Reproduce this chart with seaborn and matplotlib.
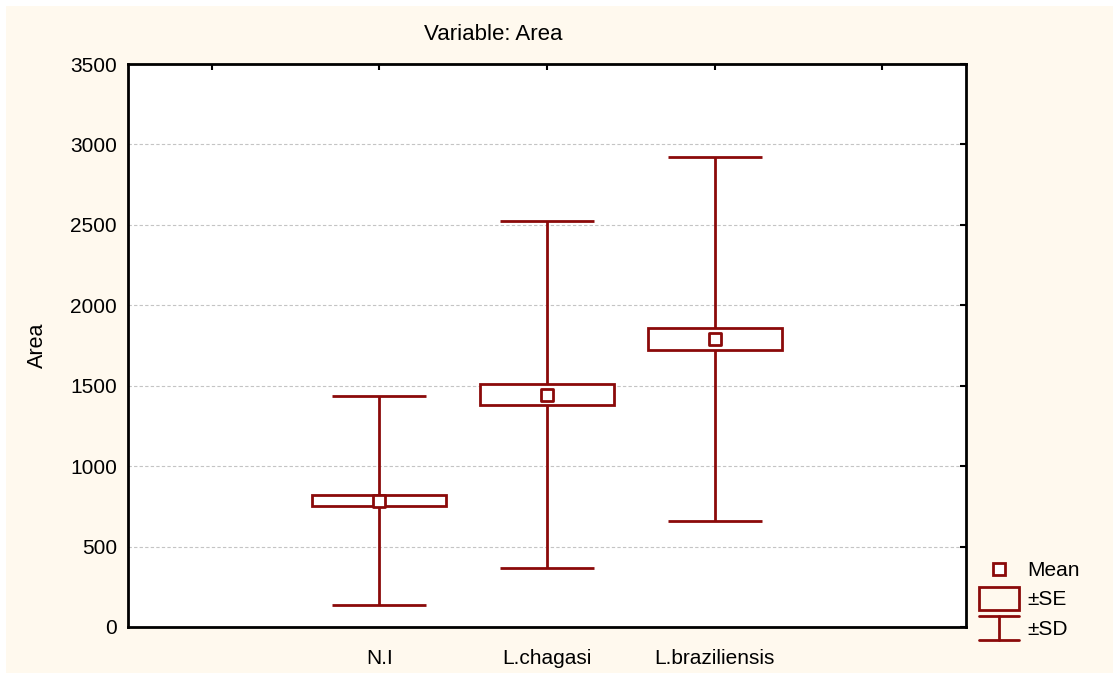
import numpy as np
import pandas as pd
import matplotlib
matplotlib.use("Agg")
import matplotlib.pyplot as plt
from matplotlib.lines import Line2D
from matplotlib.patches import Rectangle
from matplotlib.legend_handler import HandlerBase
import seaborn as sns

# Summary statistics per group
groups = ["N.I", "L.chagasi", "L.braziliensis"]
means = [786, 1445, 1790]
se = [34, 64, 68]
sd = [652, 1078, 1131]

df = pd.DataFrame({"group": groups, "mean": means, "se": se, "sd": sd})
df["pos"] = np.arange(1, len(groups) + 1)

RED = "#8B0A0A"
BG = "#FFF9EE"

sns.set_theme(style="white")
plt.rcParams["font.family"] = ["Liberation Sans", "DejaVu Sans"]

fig = plt.figure(figsize=(11.13, 6.73), dpi=100, facecolor=BG)
# thin white strips along the top and left edges
fig.patches.append(Rectangle((0, 0), 6 / 1113, 1, transform=fig.transFigure,
                             facecolor="white", edgecolor="none", zorder=-10))
fig.patches.append(Rectangle((0, 1 - 6 / 673), 1, 6 / 673, transform=fig.transFigure,
                             facecolor="white", edgecolor="none", zorder=-10))
ax = fig.add_axes([128 / 1113, (673 - 627) / 673, (966 - 128) / 1113, (627 - 64) / 673])
ax.set_facecolor("white")

# ±SD whiskers
ax.errorbar(df["pos"], df["mean"], yerr=df["sd"], fmt="none", ecolor=RED,
            elinewidth=2, capsize=34, capthick=2, zorder=2)
# ±SE boxes
ax.bar(df["pos"], 2 * df["se"], bottom=df["mean"] - df["se"], width=0.8,
       facecolor="white", edgecolor=RED, linewidth=2, zorder=3)
# Means
sns.scatterplot(data=df, x="pos", y="mean", marker="s", s=80, color="white",
                edgecolor=RED, linewidth=2, ax=ax, zorder=4, legend=False)

ax.set_xlim(-0.5, 4.5)
ax.set_ylim(0, 3500)
ax.set_xticks(range(5))
ax.set_xticklabels([""] + groups + [""])
ax.set_yticks(np.arange(0, 3501, 500))
ax.tick_params(axis="both", labelsize=15, colors="black", direction="in",
               length=4, width=1.5, top=True, right=True, pad=8)
ax.tick_params(axis="x", pad=16)
ax.yaxis.grid(True, linestyle=(0, (3, 2)), color="#C4C4C4", linewidth=0.8)
ax.set_axisbelow(True)
for s in ax.spines.values():
    s.set_visible(True)
    s.set_color("black")
    s.set_linewidth(2)

ax.set_xlabel("")
ax.set_ylabel("Area", fontsize=15.5, color="black", labelpad=16)
fig.text(493 / 1113, 1 - 35 / 673, "Variable: Area", ha="center", va="center",
         fontsize=16, color="black")


class SDHandler(HandlerBase):
    def create_artists(self, legend, orig_handle, xd, yd, width, height, fontsize, trans):
        y0, y1 = yd - 3.4, yd + height + 3.4
        xc = xd + width / 2
        lines = [
            Line2D([xd, xd + width], [y1, y1]),
            Line2D([xd, xd + width], [y0, y0]),
            Line2D([xc, xc], [y0, y1]),
        ]
        for ln in lines:
            ln.set_color(RED)
            ln.set_linewidth(2)
            ln.set_transform(trans)
        return lines


class SEHandler(HandlerBase):
    def create_artists(self, legend, orig_handle, xd, yd, width, height, fontsize, trans):
        r = Rectangle((xd, yd - 3), width, height + 6, facecolor="none",
                      edgecolor=RED, linewidth=2, transform=trans)
        return [r]


mean_h = Line2D([], [], marker="s", linestyle="none", markersize=8.5,
                markerfacecolor="white", markeredgecolor=RED, markeredgewidth=2)
se_h = Rectangle((0, 0), 1, 1)
sd_h = object()
leg = fig.legend([mean_h, se_h, sd_h], ["Mean", "±SE", "±SD"],
                 handler_map={Rectangle: SEHandler(), object: SDHandler()},
                 loc="upper left", bbox_to_anchor=(979 / 1113, 1 - 561 / 673),
                 frameon=False, fontsize=15, handlelength=1.9, handletextpad=0.4,
                 labelspacing=0.5, borderpad=0, borderaxespad=0)
for t in leg.get_texts():
    t.set_color("black")

fig.savefig("out.png", dpi=100, facecolor=fig.get_facecolor())
